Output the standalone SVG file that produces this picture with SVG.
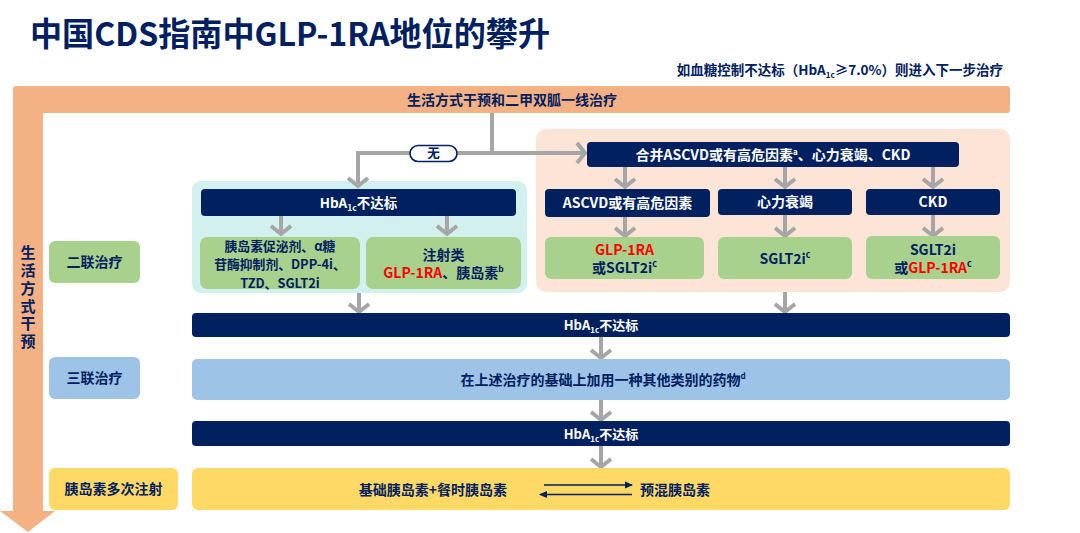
<svg xmlns="http://www.w3.org/2000/svg" width="1080" height="533" viewBox="0 0 1080 533">
<defs>
<style>
.t{font-family:"Noto Sans CJK SC","Noto Sans",sans-serif;font-weight:700}
.w{fill:#FFFFFF}
.n{fill:#002060}
.r{fill:#FF0000}
.navy{fill:#002060}
.green{fill:#A9D18E}
.conn{stroke:#A6A6A6;stroke-width:4;fill:none}
.arr{marker-end:url(#chev)}
.dbl{stroke:#002060;stroke-width:1.3;fill:none;marker-end:url(#tri)}
</style>
<marker id="chev" markerUnits="userSpaceOnUse" viewBox="-13 -13 15 26" markerWidth="15" markerHeight="26" refX="0" refY="0" orient="auto">
<path d="M-9,-10 L-1,0 L-9,10" fill="none" stroke="#A6A6A6" stroke-width="4"/>
</marker>
<marker id="tri" markerUnits="userSpaceOnUse" viewBox="0 -4 8 8" markerWidth="8" markerHeight="8" refX="7" refY="0" orient="auto">
<path d="M0,-3.5 L8,0 L0,3.5 z" fill="#002060"/>
</marker>
</defs>
<rect width="1080" height="533" fill="#FFFFFF"/>

<g id="title">
<text class="t n" x="30" y="46" font-size="32.5" textLength="520" lengthAdjust="spacingAndGlyphs">中国CDS指南中GLP-1RA地位的攀升</text>
<text class="t n" x="1003" y="75" font-size="13.5" text-anchor="end">如血糖控制不达标（HbA<tspan font-size="8" dy="3">1c</tspan><tspan dy="-3">≥7.0%）则进入下一步治疗</tspan></text>
</g>

<g id="lifestyle">
<path d="M13,89 Q13,86 16,86 L1007,86 Q1010,86 1010,89 L1010,110 Q1010,113 1007,113 L43,113 L43,511 L55,511 L28,532 L0,511 L13,511 Z" fill="#F4B183"/>
<text class="t n" x="512" y="105" font-size="14" text-anchor="middle">生活方式干预和二甲双胍一线治疗</text>
<text class="t n" x="28" y="245" font-size="15" writing-mode="vertical-rl" letter-spacing="2.8">生活方式干预</text>
</g>

<g id="label-dual">
<rect x="49" y="241" width="91" height="42" rx="6" fill="#A9D18E"/>
<text class="t n" x="94.5" y="267" font-size="14" text-anchor="middle">二联治疗</text>
</g>
<g id="label-triple">
<rect x="49" y="357" width="91" height="42" rx="6" fill="#9DC3E6"/>
<text class="t n" x="94.5" y="383" font-size="14" text-anchor="middle">三联治疗</text>
</g>
<g id="label-insulin">
<rect x="49" y="468" width="129" height="42" rx="6" fill="#FFD966"/>
<text class="t n" x="113.5" y="494" font-size="14" text-anchor="middle">胰岛素多次注射</text>
</g>

<g id="panel-none">
<rect x="192" y="181" width="335" height="112" rx="9" fill="#D2F0EE"/>
</g>
<g id="panel-comorb">
<rect x="536" y="129" width="474" height="163" rx="10" fill="#FCE5D6"/>
</g>

<g id="connectors">
<path class="conn" d="M492,113 L492,153"/>
<path class="conn arr" d="M492,153 L358,153 L358,187"/>
<path class="conn arr" d="M492,153 L586,153"/>
<path class="conn arr" d="M281,216 L281,235"/>
<path class="conn arr" d="M447,216 L447,235"/>
<path class="conn arr" d="M359,293 L359,313"/>
<path class="conn arr" d="M625,167 L625,188"/>
<path class="conn arr" d="M785,167 L785,188"/>
<path class="conn arr" d="M933,167 L933,188"/>
<path class="conn arr" d="M625,217 L625,237"/>
<path class="conn arr" d="M785,215 L785,237"/>
<path class="conn arr" d="M933,215 L933,237"/>
<path class="conn arr" d="M785,292 L785,313"/>
<path class="conn arr" d="M601,337 L601,359"/>
<path class="conn arr" d="M601,400 L601,421"/>
<path class="conn arr" d="M601,446 L601,468"/>
<rect x="410" y="145.5" width="47" height="16" rx="8" fill="#FFFFFF" stroke="#002060" stroke-width="1.6"/>
<text class="t n" x="433.5" y="158" font-size="12.5" text-anchor="middle">无</text>
</g>

<g id="none-hba1c">
<rect x="201" y="189" width="315" height="27" rx="4" class="navy"/>
<text class="t w" x="358.5" y="207.5" font-size="13.5" text-anchor="middle">HbA<tspan font-size="8.5" dy="3">1c</tspan><tspan dy="-3">不达标</tspan></text>
</g>
<g id="oral">
<rect x="200" y="237" width="160" height="52" rx="7" class="green"/>
<text class="t n" font-size="12.8" text-anchor="middle"><tspan x="280" y="250.5">胰岛素促泌剂、α糖</tspan><tspan x="280" y="269">苷酶抑制剂、DPP-4i、</tspan><tspan x="280" y="287.5">TZD、SGLT2i</tspan></text>
</g>
<g id="injectable">
<rect x="366" y="237" width="155" height="52" rx="7" class="green"/>
<text class="t n" x="443.5" y="260" font-size="14" text-anchor="middle">注射类</text>
<text class="t" x="443.5" y="278" font-size="14" text-anchor="middle"><tspan class="r">GLP-1RA</tspan><tspan class="n">、胰岛素</tspan><tspan class="n" font-size="8.5" dy="-6">b</tspan></text>
</g>

<g id="comorb-head">
<rect x="587" y="142" width="372" height="25" rx="4" class="navy"/>
<text class="t w" x="773" y="160" font-size="14" text-anchor="middle">合并ASCVD或有高危因素<tspan font-size="8" dy="-5">a</tspan><tspan dy="5">、心力衰竭、CKD</tspan></text>
</g>
<g id="ascvd">
<rect x="545" y="189" width="165" height="28" rx="4" class="navy"/>
<text class="t w" x="627.5" y="208" font-size="14" text-anchor="middle">ASCVD或有高危因素</text>
</g>
<g id="hf">
<rect x="718" y="189" width="134" height="26" rx="4" class="navy"/>
<text class="t w" x="785" y="207" font-size="14" text-anchor="middle">心力衰竭</text>
</g>
<g id="ckd">
<rect x="866" y="189" width="134" height="26" rx="4" class="navy"/>
<text class="t w" x="933" y="207" font-size="14" text-anchor="middle">CKD</text>
</g>
<g id="ascvd-tx">
<rect x="545" y="237" width="159" height="42" rx="6" class="green"/>
<text class="t r" x="624.5" y="255" font-size="14" text-anchor="middle">GLP-1RA</text>
<text class="t n" x="624.5" y="273" font-size="14" text-anchor="middle">或SGLT2i<tspan font-size="9" dy="-6">c</tspan></text>
</g>
<g id="hf-tx">
<rect x="718" y="237" width="134" height="42" rx="6" class="green"/>
<text class="t n" x="785" y="264" font-size="14" text-anchor="middle">SGLT2i<tspan font-size="9" dy="-6">c</tspan></text>
</g>
<g id="ckd-tx">
<rect x="866" y="236" width="134" height="43" rx="6" class="green"/>
<text class="t n" x="933" y="255" font-size="14" text-anchor="middle">SGLT2i</text>
<text class="t" x="933" y="273" font-size="14" text-anchor="middle"><tspan class="n">或</tspan><tspan class="r">GLP-1RA</tspan><tspan class="n" font-size="9" dy="-6">c</tspan></text>
</g>

<g id="hba1c-2">
<rect x="192" y="313" width="818" height="24" rx="4" class="navy"/>
<text class="t w" x="601" y="330" font-size="13" text-anchor="middle">HbA<tspan font-size="8" dy="3">1c</tspan><tspan dy="-3">不达标</tspan></text>
</g>
<g id="triple">
<rect x="192" y="359" width="818" height="41" rx="5" fill="#9DC3E6"/>
<text class="t n" x="603" y="385" font-size="14" text-anchor="middle">在上述治疗的基础上加用一种其他类别的药物<tspan font-size="8" dy="-6">d</tspan></text>
</g>
<g id="hba1c-3">
<rect x="192" y="421" width="818" height="25" rx="4" class="navy"/>
<text class="t w" x="601" y="438.5" font-size="13" text-anchor="middle">HbA<tspan font-size="8" dy="3">1c</tspan><tspan dy="-3">不达标</tspan></text>
</g>
<g id="insulin">
<rect x="192" y="468" width="818" height="42" rx="6" fill="#FFD966"/>
<text class="t n" x="433" y="495" font-size="14" text-anchor="middle">基础胰岛素+餐时胰岛素</text>
<text class="t n" x="640" y="495" font-size="14">预混胰岛素</text>
<path class="dbl" d="M544,485 L632,485"/>
<path class="dbl" d="M632,494.5 L540,494.5"/>
</g>
</svg>
